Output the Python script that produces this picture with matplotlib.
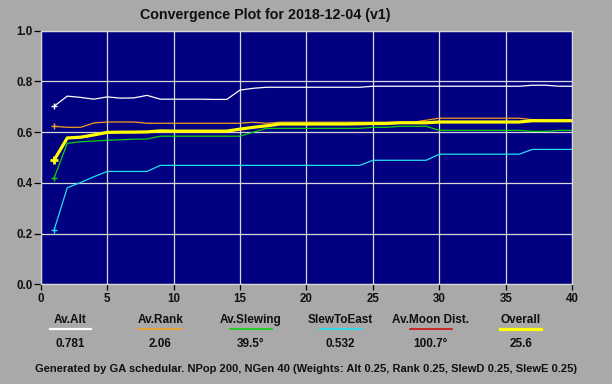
import matplotlib
matplotlib.use("Agg")
import matplotlib.pyplot as plt
from matplotlib.lines import Line2D

plt.rcParams['font.family'] = ['Liberation Sans', 'DejaVu Sans']

generations = list(range(1, 41))

av_alt = [0.702, 0.742, 0.737, 0.730, 0.739, 0.734, 0.735, 0.745, 0.730, 0.730,
          0.730, 0.730, 0.729, 0.729, 0.766, 0.773, 0.777, 0.777, 0.777, 0.777,
          0.777, 0.777, 0.777, 0.777, 0.781, 0.781, 0.781, 0.781, 0.781, 0.781,
          0.781, 0.781, 0.781, 0.781, 0.781, 0.781, 0.785, 0.785, 0.781, 0.781]

av_rank = [0.623, 0.619, 0.619, 0.636, 0.640, 0.640, 0.640, 0.635, 0.635, 0.635,
           0.635, 0.635, 0.635, 0.635, 0.635, 0.639, 0.635, 0.639, 0.639, 0.639,
           0.639, 0.639, 0.639, 0.639, 0.639, 0.639, 0.639, 0.639, 0.647, 0.655,
           0.655, 0.655, 0.655, 0.655, 0.655, 0.655, 0.649, 0.647, 0.647, 0.647]

av_slew = [0.418, 0.556, 0.562, 0.565, 0.568, 0.570, 0.572, 0.573, 0.584, 0.584,
           0.584, 0.584, 0.584, 0.584, 0.584, 0.600, 0.615, 0.615, 0.615, 0.615,
           0.615, 0.615, 0.615, 0.615, 0.619, 0.619, 0.623, 0.623, 0.623, 0.607,
           0.607, 0.607, 0.607, 0.607, 0.607, 0.607, 0.603, 0.603, 0.607, 0.607]

slew_east = [0.213, 0.381, 0.401, 0.424, 0.445, 0.445, 0.445, 0.445, 0.469, 0.469,
             0.469, 0.469, 0.469, 0.469, 0.469, 0.469, 0.469, 0.469, 0.469, 0.469,
             0.469, 0.469, 0.469, 0.469, 0.489, 0.489, 0.489, 0.489, 0.489, 0.513,
             0.513, 0.513, 0.513, 0.513, 0.513, 0.513, 0.532, 0.532, 0.532, 0.532]

overall = [0.489, 0.577, 0.580, 0.589, 0.599, 0.600, 0.600, 0.601, 0.605, 0.604,
           0.604, 0.604, 0.604, 0.604, 0.612, 0.619, 0.625, 0.632, 0.632, 0.632,
           0.632, 0.632, 0.632, 0.633, 0.634, 0.634, 0.637, 0.637, 0.637, 0.640,
           0.640, 0.640, 0.640, 0.640, 0.640, 0.640, 0.645, 0.645, 0.645, 0.645]

legend_labels = ["Av.Alt", "Av.Rank", "Av.Slewing", "SlewToEast", "Av.Moon Dist.", "Overall"]
legend_values = ["0.781", "2.06", "39.5°", "0.532", "100.7°", "25.6"]
legend_colors = ["#FFFFFF", "#F0A020", "#10D010", "#20E0F0", "#D01010", "#FFFF00"]

title = "Convergence Plot for 2018-12-04 (v1)"
footer = "Generated by GA schedular. NPop 200, NGen 40 (Weights: Alt 0.25, Rank 0.25, SlewD 0.25, SlewE 0.25)"

W, H = 612, 384
fig = plt.figure(figsize=(W / 100, H / 100), dpi=100)
bg = "#A9A9A9"
fig.patch.set_facecolor(bg)

ax = fig.add_axes([40.7 / W, 1 - 284.3 / H, (572.3 - 40.7) / W, (284.3 - 30.7) / H])
ax.set_facecolor("#000080")
ax.set_xlim(0, 40)
ax.set_ylim(0.0, 1.0)
ax.set_xticks(range(0, 41, 5))
ax.set_yticks([0.0, 0.2, 0.4, 0.6, 0.8, 1.0])
ax.set_yticklabels(["0.0", "0.2", "0.4", "0.6", "0.8", "1.0"])
ax.grid(True, color="#D8D8D8", linewidth=0.9)
ax.set_axisbelow(True)
for s in ax.spines.values():
    s.set_color("#D8D8D8")
    s.set_linewidth(0.9)
ax.tick_params(axis="y", direction="out", length=5, width=0.9, color="black",
               labelsize=8.3, pad=1)
ax.tick_params(axis="x", direction="out", length=4, width=0.9, color="black",
               labelsize=8.3, pad=2)
for lab in ax.get_xticklabels() + ax.get_yticklabels():
    lab.set_fontweight("bold")
    lab.set_color("#101010")

series = [(av_alt, legend_colors[0], 0.9),
          (av_rank, legend_colors[1], 0.9),
          (av_slew, legend_colors[2], 0.9),
          (slew_east, legend_colors[3], 0.9),
          (overall, legend_colors[5], 2.3)]
for vals, col, lw in series:
    ax.plot(generations, vals, color=col, linewidth=lw, solid_joinstyle="miter")
    ax.plot(generations[:1], vals[:1], marker="+", color=col,
            markersize=5 if lw < 2 else 6, markeredgewidth=1.0 if lw < 2 else 2.0,
            linestyle="none")

fig.text(265.5 / W, 1 - 15 / H, title, ha="center", va="center",
         fontsize=10.3, fontweight="bold", color="#101010")

x0, dx = 70.3, 90.1
uw = [41, 44, 42, 42, 42, 41]
ulw = [1.6, 1.2, 1.2, 1.2, 1.2, 2.3]
for i, (lab, val, col) in enumerate(zip(legend_labels, legend_values, legend_colors)):
    xc = x0 + dx * i
    fig.text(xc / W, 1 - 320 / H, lab, ha="center", va="center",
             fontsize=8.5, fontweight="bold", color="#101010")
    fig.text(xc / W, 1 - 344 / H, val, ha="center", va="center",
             fontsize=8.5, fontweight="bold", color="#101010")
    fig.add_artist(Line2D([(xc - uw[i] / 2) / W, (xc + uw[i] / 2) / W],
                          [1 - 329.3 / H, 1 - 329.3 / H],
                          transform=fig.transFigure, color=col, linewidth=ulw[i]))

fig.text(306 / W, 1 - 369.3 / H, footer, ha="center", va="center",
         fontsize=8.0, fontweight="bold", color="#101010")

fig.savefig("out.png", dpi=100, facecolor=bg)
